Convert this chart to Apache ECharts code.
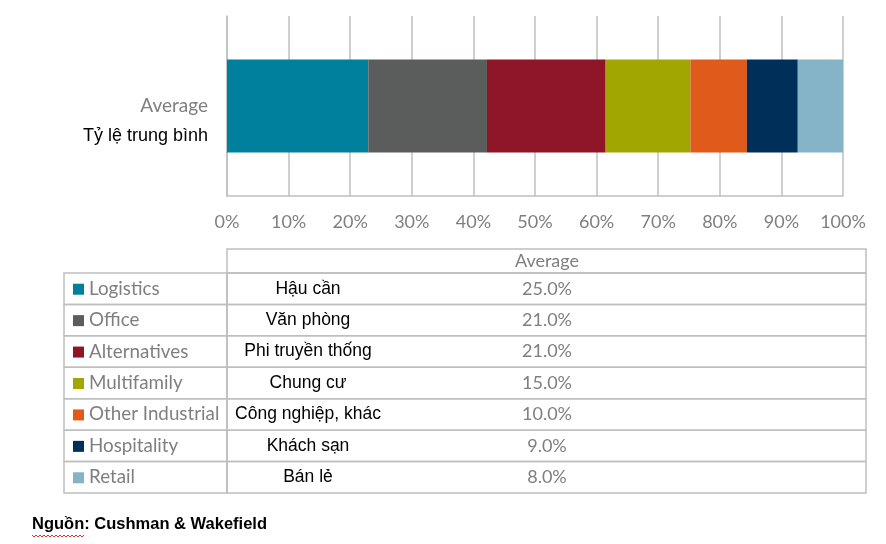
<!DOCTYPE html>
<html>
<head>
<meta charset="utf-8">
<script src="https://cdn.jsdelivr.net/npm/echarts@6/dist/echarts.min.js"></script>
<style>
  html, body { margin: 0; padding: 0; background: #fff; }
  #main { width: 886px; height: 544px; }
</style>
</head>
<body>
<div id="main"></div>
<script>
// dữ liệu
var sectors = ['Logistics', 'Office', 'Alternatives', 'Multifamily', 'Other Industrial', 'Hospitality', 'Retail'];
var sectorsVi = ['Hậu cần', 'Văn phòng', 'Phi truyền thống', 'Chung cư', 'Công nghiệp, khác', 'Khách sạn', 'Bán lẻ'];
var shares = [25.0, 21.0, 21.0, 15.0, 10.0, 9.0, 8.0];
var colors = ['#00809c', '#5b5d5c', '#8e1628', '#a1a700', '#e05a1b', '#002f59', '#85b4c8'];
var xTicks = [0, 10, 20, 30, 40, 50, 60, 70, 80, 90, 100];

var total = shares.reduce(function (a, b) { return a + b; }, 0);
var GRAY = '#7f7f7f';
var LINE = '#bfbfbf';
var COL_X = 227; // ranh giới cột bảng
var LABEL_FONT = 'Lato, "Noto Sans", sans-serif';
var VI_FONT = '"Liberation Sans", Arial, sans-serif';

var myChart = echarts.init(document.getElementById('main'));

var barSeries = sectors.map(function (name, i) {
    return {
        name: name,
        type: 'bar',
        stack: 'total',
        xAxisIndex: 0,
        yAxisIndex: 0,
        barWidth: 93,
        itemStyle: { color: colors[i] },
        data: [shares[i] / total * 100]
    };
});

var tableSeries = {
    type: 'custom',
    xAxisIndex: 1,
    yAxisIndex: 1,
    silent: true,
    data: sectors.map(function (n, i) { return [0, i]; }),
    renderItem: function (params, api) {
        var i = api.value(1);
        var c = api.coord([0, i]);
        var right = api.coord([1, i])[0];
        var h = api.size([0, 1])[1];
        var top = c[1] - h / 2;
        var left = c[0];
        var lineStyle = { fill: null, stroke: LINE, lineWidth: 1.5 };
        var children = [
            { type: 'rect', shape: { x: left, y: top, width: COL_X - left, height: h }, style: lineStyle },
            { type: 'rect', shape: { x: COL_X, y: top, width: right - COL_X, height: h }, style: lineStyle },
            { type: 'rect', shape: { x: left + 9, y: c[1] - 5, width: 11, height: 11 }, style: { fill: colors[i] } },
            { type: 'text', x: left + 25, y: c[1], style: { text: sectors[i], fill: GRAY, font: '18.8px ' + LABEL_FONT, verticalAlign: 'middle', align: 'left' } },
            { type: 'text', x: 308, y: c[1], style: { text: sectorsVi[i], fill: '#000', font: '17.5px ' + VI_FONT, verticalAlign: 'middle', align: 'center' } },
            { type: 'text', x: 547, y: c[1], style: { text: shares[i].toFixed(1) + '%', fill: GRAY, font: '18px ' + LABEL_FONT, verticalAlign: 'middle', align: 'center' } }
        ];
        if (i === 0) {
            children.push(
                { type: 'rect', shape: { x: COL_X, y: top - 24, width: right - COL_X, height: 24 }, style: lineStyle },
                { type: 'text', x: 547, y: top - 12, style: { text: 'Average', fill: GRAY, font: '18px ' + LABEL_FONT, verticalAlign: 'middle', align: 'center' } }
            );
        }
        return { type: 'group', children: children };
    }
};

myChart.setOption({
    animation: false,
    grid: [
        { left: COL_X, right: 43, top: 16, bottom: 348 },
        { left: 64, right: 20, top: 273, bottom: 51 }
    ],
    xAxis: [{
        gridIndex: 0,
        type: 'value',
        min: 0,
        max: 100,
        interval: 10,
        axisLine: { show: true, lineStyle: { color: LINE, width: 1.5 } },
        axisTick: { show: false },
        splitLine: { show: true, showMinLine: true, showMaxLine: true, lineStyle: { color: LINE, width: 1.5 } },
        axisLabel: {
            margin: 17,
            color: GRAY,
            fontFamily: LABEL_FONT,
            fontSize: 18,
            customValues: xTicks,
            formatter: '{value}%'
        }
    }, {
        gridIndex: 1,
        type: 'value',
        min: 0,
        max: 1,
        show: false
    }],
    yAxis: [{
        gridIndex: 0,
        type: 'category',
        data: ['Average'],
        axisLine: { show: true, lineStyle: { color: LINE, width: 1.5 } },
        axisTick: { show: false },
        axisLabel: {
            margin: 19,
            padding: [30, 0, 0, 0],
            formatter: function (v) { return '{a|' + v + '}\n{b|Tỷ lệ trung bình}'; },
            rich: {
                a: { color: GRAY, fontFamily: LABEL_FONT, fontSize: 19, lineHeight: 30, align: 'right' },
                b: { color: '#000', fontFamily: VI_FONT, fontSize: 18, lineHeight: 30, align: 'right' }
            }
        }
    }, {
        gridIndex: 1,
        type: 'category',
        data: sectors,
        inverse: true,
        show: false
    }],
    graphic: [{
        type: 'text',
        left: 32,
        top: 516,
        style: { text: 'Nguồn: Cushman & Wakefield', fill: '#000', font: 'bold 16.5px ' + VI_FONT }
    }, {
        // gạch chân lượn sóng kiểm tra chính tả
        type: 'polyline',
        shape: { points: [[32, 535], [34, 537], [36, 535], [38, 537], [40, 535], [42, 537], [44, 535], [46, 537], [48, 535], [50, 537], [52, 535], [54, 537], [56, 535], [58, 537], [60, 535], [62, 537], [64, 535], [66, 537], [68, 535], [70, 537], [72, 535], [74, 537], [76, 535], [78, 537], [80, 535], [82, 537], [84, 535]] },
        style: { stroke: '#e03030', lineWidth: 1, fill: null }
    }],
    series: barSeries.concat([tableSeries])
});
</script>
</body>
</html>
